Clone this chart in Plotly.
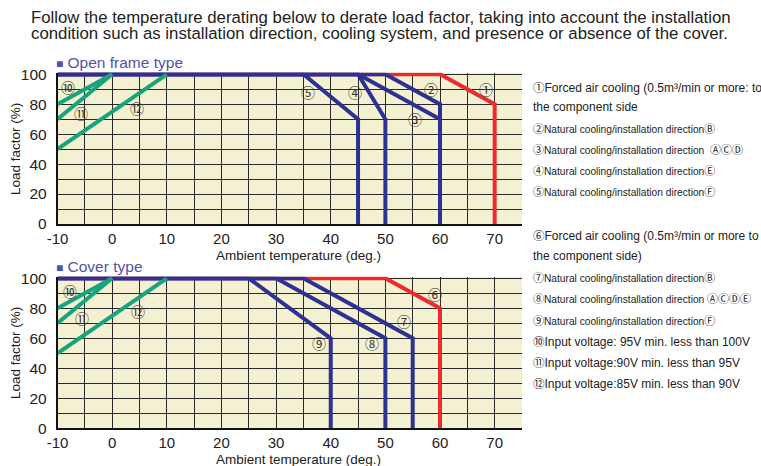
import plotly.graph_objects as go

W, H = 761, 466

# ---------------- data ----------------
temp_ticks = [-10, 0, 10, 20, 30, 40, 50, 60, 70]
load_ticks = [0, 20, 40, 60, 80, 100]

# Open frame type
open_c1_x = [-10, 60, 70, 70]; open_c1_y = [100, 100, 80, 0]
open_c2_x = [-10, 50, 60, 60]; open_c2_y = [100, 100, 80, 0]
open_c3_x = [-10, 45, 60, 60]; open_c3_y = [100, 100, 70, 0]
open_c4_x = [-10, 45, 50, 50]; open_c4_y = [100, 100, 70, 0]
open_c5_x = [-10, 35, 45, 45]; open_c5_y = [100, 100, 70, 0]
# Cover type
cov_c6_x = [-10, 50, 60, 60]; cov_c6_y = [100, 100, 80, 0]
cov_c7_x = [-10, 35, 55, 55]; cov_c7_y = [100, 100, 60, 0]
cov_c8_x = [-10, 30, 50, 50]; cov_c8_y = [100, 100, 60, 0]
cov_c9_x = [-10, 25, 40, 40]; cov_c9_y = [100, 100, 60, 0]
# Input voltage lines (both charts)
volt_c10_x = [-10, 0]; volt_c10_y = [80, 100]
volt_c11_x = [-10, 0]; volt_c11_y = [70, 100]
volt_c12_x = [-10, 10]; volt_c12_y = [50, 100]

open_labels = ["①", "②", "③", "④", "⑤", "⑩", "⑪", "⑫"]
open_label_x = [68.5, 58.4, 55.4, 44.5, 35.9, -8.0, -5.7, 4.5]
open_label_y = [90, 90, 70, 88, 88, 91.5, 74, 77.5]
cov_labels = ["⑥", "⑦", "⑧", "⑨", "⑩", "⑪", "⑫"]
cov_label_x = [59.0, 53.4, 47.6, 37.8, -7.8, -5.5, 4.7]
cov_label_y = [89.5, 71.5, 56.7, 56.7, 91.5, 73.7, 78.2]

notes_top = [
    "①Forced air cooling (0.5m³/min or more: to",
    "the component side",
    "②Natural cooling/installation directionⒷ",
    "③Natural cooling/installation direction  ⒶⒸⒹ",
    "④Natural cooling/installation directionⒺ",
    "⑤Natural cooling/installation directionⒻ",
]
notes_bottom = [
    "⑥Forced air cooling (0.5m³/min or more to",
    "the component side)",
    "⑦Natural cooling/installation directionⒷ",
    "⑧Natural cooling/installation direction ⒶⒸⒹⒺ",
    "⑨Natural cooling/installation directionⒻ",
    "⑩Input voltage: 95V min. less than 100V",
    "⑪Input voltage:90V min. less than 95V",
    "⑫Input voltage:85V min. less than 90V",
]
narrow_top = [False, False, True, True, True, True]
narrow_bottom = [False, False, True, True, True, False, False, False]

header_lines = [
    "Follow the temperature derating below to derate load factor, taking into account the installation",
    "condition such as installation direction, cooling system, and presence or absence of the cover.",
]

# ---------------- style ----------------
BLUE = "#2e3192"
RED = "#ec2a2e"
GREEN = "#17a37b"
GRID = "#2a2a2a"
BG = "#f4f1d2"
FONT = "Liberation Sans, Arial, sans-serif"
CIRC = "Noto Sans CJK JP, Liberation Sans, sans-serif"

def px_x(p):
    return p / W

def px_y(p):
    return (H - p) / H

def circ_font(text, size):
    out = []
    for ch in text:
        if 0x2460 <= ord(ch) <= 0x24FF:
            out.append("<span style='font-family:Noto Sans CJK JP;font-size:%gpx'>%s</span>" % (size, ch))
        else:
            out.append(ch)
    return "".join(out)

x_dom = [px_x(57.5), px_x(522)]
top_dom = [px_y(224), px_y(72.8)]
bot_dom = [px_y(428.3), px_y(276.8)]

fig = go.Figure()

def add_line(x, y, color, xa, ya):
    fig.add_trace(go.Scatter(x=x, y=y, mode="lines", xaxis=xa, yaxis=ya,
                             line=dict(color=color, width=4), showlegend=False,
                             hoverinfo="skip"))

# top chart
add_line(open_c1_x, open_c1_y, RED, "x", "y")
for cx, cy in [(open_c5_x, open_c5_y), (open_c4_x, open_c4_y),
               (open_c3_x, open_c3_y), (open_c2_x, open_c2_y)]:
    add_line(cx, cy, BLUE, "x", "y")
for cx, cy in [(volt_c10_x, volt_c10_y), (volt_c11_x, volt_c11_y), (volt_c12_x, volt_c12_y)]:
    add_line(cx, cy, GREEN, "x", "y")

# bottom chart
add_line(cov_c6_x, cov_c6_y, RED, "x2", "y2")
for cx, cy in [(cov_c9_x, cov_c9_y), (cov_c8_x, cov_c8_y), (cov_c7_x, cov_c7_y)]:
    add_line(cx, cy, BLUE, "x2", "y2")
for cx, cy in [(volt_c10_x, volt_c10_y), (volt_c11_x, volt_c11_y), (volt_c12_x, volt_c12_y)]:
    add_line(cx, cy, GREEN, "x2", "y2")

def xaxis(domain, anchor):
    return dict(domain=domain, anchor=anchor, range=[-10, 75], tickmode="array",
                tickvals=temp_ticks, ticktext=[str(v) for v in temp_ticks],
                showgrid=True, gridcolor=GRID, gridwidth=1.2,
                minor=dict(tickmode="linear", tick0=-10, dtick=5, showgrid=True,
                           gridcolor=GRID, gridwidth=1.2),
                showline=True, linecolor="#111", linewidth=1.5,
                ticks="", 
                tickfont=dict(family=FONT, size=15, color="#222"),
                zeroline=False, fixedrange=True, automargin=False)

def yaxis(domain, anchor):
    return dict(domain=domain, anchor=anchor, range=[0, 101], tickmode="array",
                tickvals=load_ticks, ticktext=[str(v) for v in load_ticks],
                showgrid=True, gridcolor=GRID, gridwidth=1.2,
                minor=dict(tickmode="linear", tick0=0, dtick=10, showgrid=True,
                           gridcolor=GRID, gridwidth=1.2),
                showline=True, linecolor="#111", linewidth=1.5,
                ticks="outside", ticklen=6, tickcolor="rgba(0,0,0,0)",
                tickfont=dict(family=FONT, size=15.5, color="#222"),
                zeroline=False, fixedrange=True, automargin=False)

annotations = []

# header
for i, line in enumerate(header_lines):
    annotations.append(dict(xref="paper", yref="paper", x=px_x(29), y=px_y(17.5 + 16 * i),
                            xanchor="left", yanchor="middle", showarrow=False, text=line,
                            font=dict(family=FONT, size=16.8, color="#222")))

# section titles
for txt, yp in [("Open frame type", 62), ("Cover type", 267)]:
    annotations.append(dict(xref="paper", yref="paper", x=px_x(54), y=px_y(yp),
                            xanchor="left", yanchor="middle", showarrow=False,
                            text="<span style='font-size:12px'>■</span> " + txt,
                            font=dict(family=FONT, size=15.5, color="#5252a8")))

# axis titles
for yp in [255, 459]:
    annotations.append(dict(xref="paper", yref="paper", x=px_x(298), y=px_y(yp),
                            xanchor="center", yanchor="middle", showarrow=False,
                            text="Ambient temperature (deg.)",
                            font=dict(family=FONT, size=13.5, color="#222")))
for yp in [149, 353]:
    annotations.append(dict(xref="paper", yref="paper", x=px_x(15), y=px_y(yp),
                            xanchor="center", yanchor="middle", showarrow=False,
                            textangle=-90, text="Load factor (%)",
                            font=dict(family=FONT, size=13.5, color="#222")))

# curve labels
for lab, lx, ly in zip(open_labels, open_label_x, open_label_y):
    annotations.append(dict(xref="x", yref="y", x=lx, y=ly, showarrow=False, text=lab,
                            font=dict(family=CIRC, size=14, color="#333")))
for lab, lx, ly in zip(cov_labels, cov_label_x, cov_label_y):
    annotations.append(dict(xref="x2", yref="y2", x=lx, y=ly, showarrow=False, text=lab,
                            font=dict(family=CIRC, size=14, color="#333")))

# notes
top_y = [87, 107, 128, 149, 170, 191]
bot_y = [235, 256, 277, 298, 320, 341, 362, 383]
for txt, yp, nar in zip(notes_top + notes_bottom, top_y + bot_y, narrow_top + narrow_bottom):
    size = 10.2 if nar else 12
    annotations.append(dict(xref="paper", yref="paper", x=px_x(531), y=px_y(yp),
                            xanchor="left", yanchor="middle", showarrow=False,
                            text=circ_font(txt, 11 if nar else 11.5),
                            font=dict(family=FONT, size=size, color="#222")))

fig.update_layout(
    width=W, height=H, margin=dict(l=0, r=0, t=0, b=0, autoexpand=False),
    paper_bgcolor="white", plot_bgcolor=BG,
    xaxis=xaxis(x_dom, "y"), yaxis=yaxis(top_dom, "x"),
    xaxis2=xaxis(x_dom, "y2"), yaxis2=yaxis(bot_dom, "x2"),
    annotations=annotations, showlegend=False,
)

fig.write_html("out.html")
